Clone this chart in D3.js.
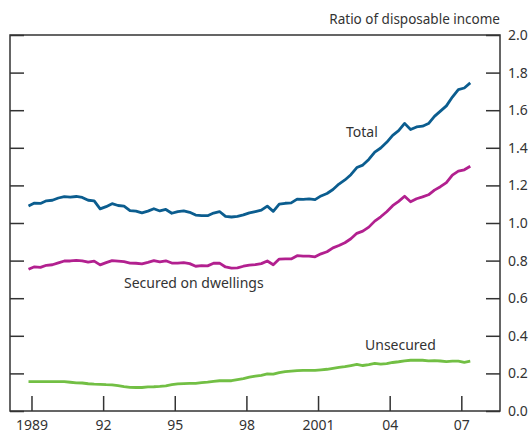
<!DOCTYPE html>
<html>
<head>
<meta charset="utf-8">
<script src="https://d3js.org/d3.v7.min.js"></script>
<style>
  body { margin: 0; background: #fff; }
  svg text { font-family: "Noto Sans", "Open Sans", sans-serif; fill: #333; }
</style>
</head>
<body>
<div id="chart"></div>
<script>
// quarterly data, 1988 Q4 to 2007 Q2
const firstQuarter = 1988.875;

const total = [
  1.090, 1.106, 1.104, 1.118, 1.121, 1.133, 1.140, 1.138, 1.141, 1.136,
  1.121, 1.118, 1.075, 1.087, 1.103, 1.093, 1.090, 1.066, 1.063, 1.054,
  1.063, 1.076, 1.064, 1.072, 1.052, 1.061, 1.065, 1.057, 1.042, 1.039,
  1.039, 1.053, 1.061, 1.035, 1.032, 1.035, 1.043, 1.054, 1.061, 1.068,
  1.090, 1.062, 1.100, 1.105, 1.107, 1.127, 1.126, 1.128, 1.124, 1.144,
  1.157, 1.178, 1.207, 1.229, 1.257, 1.295, 1.308, 1.338, 1.377, 1.399,
  1.429, 1.466, 1.491, 1.530, 1.497, 1.511, 1.515, 1.529, 1.567, 1.595,
  1.623, 1.670, 1.710, 1.718, 1.745
];

const secured = [
  0.754, 0.767, 0.764, 0.775, 0.778, 0.788, 0.798, 0.798, 0.801, 0.799,
  0.792, 0.797, 0.777, 0.789, 0.800, 0.797, 0.794, 0.787, 0.786, 0.783,
  0.791, 0.800, 0.793, 0.799, 0.787, 0.787, 0.789, 0.784, 0.770, 0.773,
  0.772, 0.786, 0.787, 0.766, 0.760, 0.761, 0.770, 0.776, 0.779, 0.784,
  0.798, 0.778, 0.808, 0.809, 0.809, 0.826, 0.824, 0.824, 0.820, 0.836,
  0.847, 0.868, 0.880, 0.895, 0.916, 0.945, 0.957, 0.978, 1.010, 1.033,
  1.060, 1.092, 1.115, 1.142, 1.113, 1.129, 1.139, 1.150, 1.175, 1.193,
  1.215, 1.255, 1.276, 1.283, 1.302
];

const unsecured = [
  0.156, 0.156, 0.156, 0.156, 0.156, 0.156, 0.156, 0.153, 0.150, 0.149,
  0.145, 0.143, 0.142, 0.140, 0.139, 0.135, 0.130, 0.126, 0.125, 0.125,
  0.128, 0.129, 0.131, 0.134, 0.140, 0.144, 0.146, 0.147, 0.147, 0.151,
  0.154, 0.158, 0.161, 0.161, 0.161, 0.167, 0.172, 0.180, 0.185, 0.190,
  0.197, 0.196, 0.204, 0.209, 0.212, 0.215, 0.216, 0.216, 0.216, 0.219,
  0.222, 0.227, 0.232, 0.236, 0.242, 0.248, 0.242, 0.247, 0.253, 0.249,
  0.252, 0.258, 0.262, 0.267, 0.270, 0.271, 0.270, 0.267, 0.268, 0.266,
  0.263, 0.265, 0.265, 0.259, 0.265
];

const yearTicks = [1989, 1992, 1995, 1998, 2001, 2004, 2007];
const yearLabels = ["1989", "92", "95", "98", "2001", "04", "07"];
const yTicks = [0, 0.2, 0.4, 0.6, 0.8, 1.0, 1.2, 1.4, 1.6, 1.8, 2.0];

const series = [
  { name: "Total", values: total, color: "#0b5d8f", lx: 346, ly: 137 },
  { name: "Secured on dwellings", values: secured, color: "#b2208f", lx: 124, ly: 288 },
  { name: "Unsecured", values: unsecured, color: "#72bf44", lx: 365, ly: 350 }
];

const width = 529, height = 434;
const plotLeft = 10, plotRight = 500, plotTop = 35, plotBottom = 411;

const svg = d3.select("#chart").append("svg")
  .attr("width", width).attr("height", height);

const x = d3.scaleLinear().domain([1988.1, 2008.62]).range([plotLeft, plotRight]);
const y = d3.scaleLinear().domain([0, 2]).range([plotBottom, plotTop]);

//frame
svg.append("rect")
  .attr("x", plotLeft).attr("y", plotTop)
  .attr("width", plotRight - plotLeft).attr("height", plotBottom - plotTop)
  .attr("fill", "none").attr("stroke", "#333").attr("stroke-width", 1.5);

//left ticks (no labels)
svg.append("g")
  .attr("transform", `translate(${plotLeft},0)`)
  .call(d3.axisLeft(y).tickValues(yTicks).tickSize(-14).tickSizeOuter(0).tickFormat(""))
  .call(g => g.select(".domain").remove());

//right axis with labels
svg.append("g")
  .attr("transform", `translate(${plotRight},0)`)
  .call(d3.axisRight(y).tickValues(yTicks).tickSize(-14).tickSizeOuter(0).tickPadding(8)
    .tickFormat(d3.format(".1f")))
  .call(g => g.select(".domain").remove())
  .call(g => g.selectAll("text").attr("font-size", 14).attr("fill", "#333"));

//bottom axis
svg.append("g")
  .attr("transform", `translate(0,${plotBottom})`)
  .call(d3.axisBottom(x).tickValues(yearTicks).tickSize(-15).tickSizeOuter(0).tickPadding(9)
    .tickFormat((d, i) => yearLabels[i]))
  .call(g => g.select(".domain").remove())
  .call(g => g.selectAll("text").attr("font-size", 14).attr("fill", "#333"));

svg.selectAll(".tick line").attr("stroke", "#333").attr("stroke-width", 1.5);

//axis title
svg.append("text")
  .attr("x", plotRight).attr("y", 24)
  .attr("text-anchor", "end")
  .attr("font-size", 13.5)
  .text("Ratio of disposable income");

let line = d3.line()
  .x((d, i) => x(firstQuarter + i * 0.25))
  .y(d => y(d));

series.forEach(s => {
  svg.append("path")
    .datum(s.values)
    .attr("d", line)
    .attr("fill", "none")
    .attr("stroke", s.color)
    .attr("stroke-width", 2.8)
    .attr("stroke-linejoin", "round");

  svg.append("text")
    .attr("x", s.lx).attr("y", s.ly)
    .attr("font-size", 14)
    .text(s.name);
});
</script>
</body>
</html>
